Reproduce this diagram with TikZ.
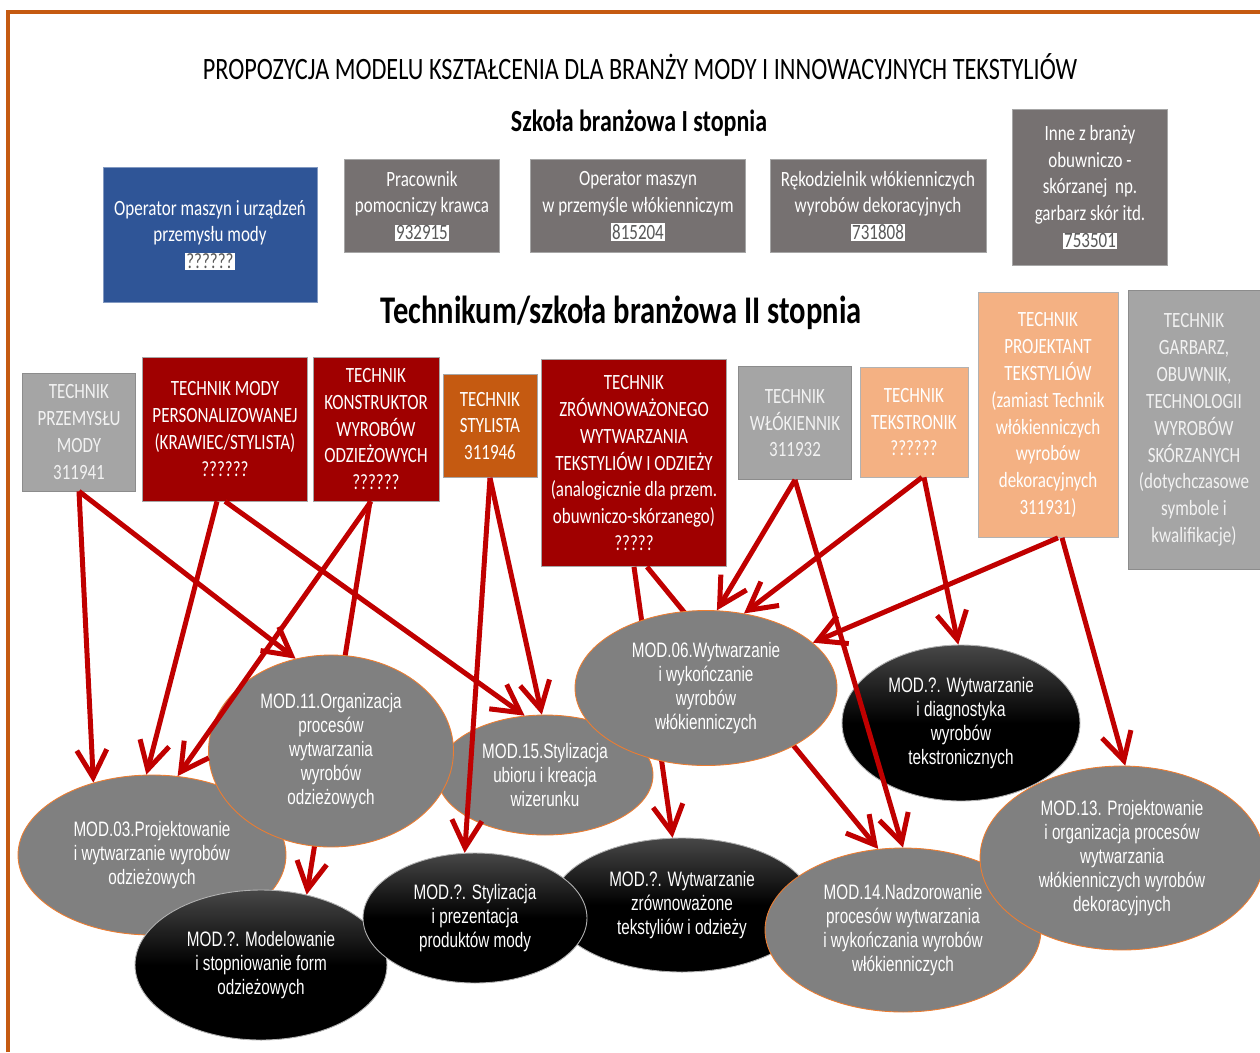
\documentclass[tikz,border=0pt]{standalone}
\usepackage{fontspec}
\setmainfont{Carlito}[FakeStretch=0.78]
\newfontfamily\modfont{Liberation Sans}[FakeStretch=0.73]
\usepackage{xcolor}
\usepackage{tikz}
\usetikzlibrary{positioning,shapes.geometric,arrows.meta}

\definecolor{frameor}{HTML}{C55A11}
\definecolor{boxblue}{HTML}{2F5597}
\definecolor{boxdark}{HTML}{767171}
\definecolor{boxlight}{HTML}{A5A5A5}
\definecolor{boxred}{HTML}{A00000}
\definecolor{boxpeach}{HTML}{F4B183}
\definecolor{arrred}{HTML}{C00000}
\definecolor{modgray}{HTML}{808080}
\definecolor{modedge}{HTML}{ED7D31}
\definecolor{kodgray}{HTML}{595959}

\newcommand\kod[1]{{\setlength{\fboxsep}{0.6pt}\colorbox{white}{\textcolor{kodgray}{#1}}}}

\begin{document}
\begin{tikzpicture}[
  x=0.02cm, y=-0.02cm,
  box/.style={draw=gray!70, align=center, inner sep=1pt, text=white, font=\fontsize{12.4}{15.3}\selectfont},
  topbox/.style={box, fill=boxdark},
  bluebox/.style={box, fill=boxblue, draw=boxblue!60},
  lightbox/.style={box, fill=boxlight, draw=gray!90, text=white!95!black},
  redbox/.style={box, fill=boxred},
  orbox/.style={box, fill=frameor},
  peachbox/.style={box, fill=boxpeach, draw=gray!60},
  mod/.style={ellipse, draw=modedge, line width=0.5pt, fill=modgray, text=white, align=center, inner sep=0pt, font=\modfont\fontsize{11.9}{13.6}\selectfont},
  modb/.style={mod, draw=gray!60, top color=black!72, bottom color=black, middle color=black},
  arr/.style={draw=arrred, line width=1mm, -{Straight Barb[length=5.5mm, width=6mm]}}
]
\useasboundingbox (0,0) rectangle (1260,1052);
\draw[frameor, line width=0.8mm] (8,1052) -- (8,12) -- (1260,12);

% headings
\node[font=\fontsize{17.7}{20}\selectfont] (title) at (640,67) {PROPOZYCJA MODELU KSZTAŁCENIA DLA BRANŻY MODY I INNOWACYJNYCH TEKSTYLIÓW};
\node[font=\bfseries\fontsize{17.5}{20}\selectfont] (lev1) at (639,123) {Szkoła branżowa I stopnia};
\node[font=\bfseries\fontsize{22.3}{25}\selectfont] (lev2) at (621,313) {Technikum/szkoła branżowa II stopnia};

% szkola branzowa I stopnia
\node[bluebox, minimum width=4.28cm, minimum height=2.70cm] (omu) at (210,235) {Operator maszyn i urządzeń\\przemysłu mody\\\kod{??????}};
\node[topbox, minimum width=3.10cm, minimum height=1.86cm] (ppk) at (422,206) {Pracownik\\pomocniczy krawca\\\kod{932915}};
\node[topbox, minimum width=4.30cm, minimum height=1.86cm] (omw) at (638,206) {Operator maszyn\\w przemyśle włókienniczym\\\kod{815204}};
\node[topbox, minimum width=4.32cm, minimum height=1.86cm] (rwd) at (878,206) {Rękodzielnik włókienniczych\\wyrobów dekoracyjnych\\\kod{731808}};
\node[topbox, minimum width=3.10cm, minimum height=3.12cm] (inne) at (1090,187) {Inne z branży\\obuwniczo -\\skórzanej~ np.\\garbarz skór itd.\\\kod{753501}};

% technikum
\node[lightbox, minimum width=2.26cm, minimum height=2.36cm] (tpm) at (79,432) {TECHNIK\\PRZEMYSŁU\\MODY\\311941};
\node[redbox, minimum width=3.30cm, minimum height=2.88cm] (tmp) at (225,429) {TECHNIK MODY\\PERSONALIZOWANEJ\\(KRAWIEC/STYLISTA)\\??????};
\node[redbox, minimum width=2.52cm, minimum height=2.88cm] (tkwo) at (376,429) {TECHNIK\\KONSTRUKTOR\\WYROBÓW\\ODZIEŻOWYCH\\??????};
\node[orbox, minimum width=1.88cm, minimum height=2.06cm] (ts) at (490,426) {TECHNIK\\STYLISTA\\311946};
\node[redbox, minimum width=3.70cm, minimum height=4.14cm] (tzw) at (634,463) {TECHNIK\\ZRÓWNOWAŻONEGO\\WYTWARZANIA\\TEKSTYLIÓW I ODZIEŻY\\(analogicznie dla przem.\\obuwniczo-skórzanego)\\?????};
\node[lightbox, minimum width=2.26cm, minimum height=2.26cm] (twl) at (795,423) {TECHNIK\\WŁÓKIENNIK\\311932};
\node[peachbox, minimum width=2.16cm, minimum height=2.20cm] (tt) at (914,422) {TECHNIK\\TEKSTRONIK\\??????};
\node[peachbox, minimum width=2.80cm, minimum height=4.90cm] (tpt) at (1048,415) {TECHNIK\\PROJEKTANT\\TEKSTYLIÓW\\(zamiast Technik\\włókienniczych\\wyrobów\\dekoracyjnych\\311931)};
\node[lightbox, minimum width=2.64cm, minimum height=5.58cm] (tgot) at (1194,430) {TECHNIK\\GARBARZ,\\OBUWNIK,\\TECHNOLOGII\\WYROBÓW\\SKÓRZANYCH\\(dotychczasowe\\symbole i\\kwalifikacje)};

% moduly
\node[mod, minimum width=5.36cm, minimum height=3.20cm] (m03) at (152,855) {MOD.03.Projektowanie\\i wytwarzanie wyrobów\\odzieżowych};
\node[mod, minimum width=4.32cm, minimum height=2.40cm] (m15) at (545,775) {MOD.15.Stylizacja\\ubioru i kreacja\\wizerunku};
\node[modb, minimum width=5.04cm, minimum height=3.00cm] (mmod) at (261,965) {MOD.?. Modelowanie\\i stopniowanie form\\odzieżowych};
\node[modb, minimum width=5.20cm, minimum height=2.68cm] (mzr) at (682,905) {MOD.?. Wytwarzanie\\zrównoważone\\tekstyliów i odzieży};
\node[modb, minimum width=4.48cm, minimum height=2.60cm] (msp) at (475,918) {MOD.?. Stylizacja\\i prezentacja\\produktów mody};
\node[modb, minimum width=4.76cm, minimum height=3.12cm] (mtek) at (961,723) {MOD.?. Wytwarzanie\\i diagnostyka\\wyrobów\\tekstronicznych};
\node[mod, minimum width=5.52cm, minimum height=3.28cm] (m14) at (903,930) {MOD.14.Nadzorowanie\\procesów wytwarzania\\i wykończania wyrobów\\włókienniczych};
\node[mod, minimum width=5.68cm, minimum height=3.68cm] (m13) at (1122,858) {MOD.13. Projektowanie\\i organizacja procesów\\wytwarzania\\włókienniczych wyrobów\\dekoracyjnych};

\draw[arr] ([xshift=-0.12cm]tkwo.south) -- (mmod.57);
\draw[arr] (tzw.south) -- (mzr.98);
\draw[arr] ([xshift=0.26cm]tzw.south) -- (m14.107);

\node[mod, minimum width=4.90cm, minimum height=3.84cm] (m11) at (331,751) {MOD.11.Organizacja\\procesów\\wytwarzania\\wyrobów\\odzieżowych};
\node[mod, minimum width=5.24cm, minimum height=3.10cm] (m06) at (706,688) {MOD.06.Wytwarzanie\\i wykończanie\\wyrobów\\włókienniczych};

\draw[arr] (tpm.south) -- (m03.129);
\draw[arr] (tpm.south) -- (m11.111);
\draw[arr] ([xshift=-0.16cm]tmp.south) -- (m03.94);
\draw[arr] (tmp.south) -- (m15.109);
\draw[arr] ([xshift=-0.1cm]tkwo.south) -- (m03.72);
\draw[arr] (ts.south) -- (msp.99);
\draw[arr] (ts.south) -- (m15.93);
\draw[arr] (twl.south) -- (m06.82);
\draw[arr] (twl.south) -- (m14.90);
\draw[arr] ([xshift=0.16cm]tt.south) -- (m06.63);
\draw[arr] ([xshift=0.2cm]tt.south) -- (mtek.92);
\draw[arr] ([xshift=0.2cm]tpt.south) -- (m06.23);
\draw[arr] ([xshift=0.28cm]tpt.south) -- (m13.88);
\end{tikzpicture}
\end{document}
